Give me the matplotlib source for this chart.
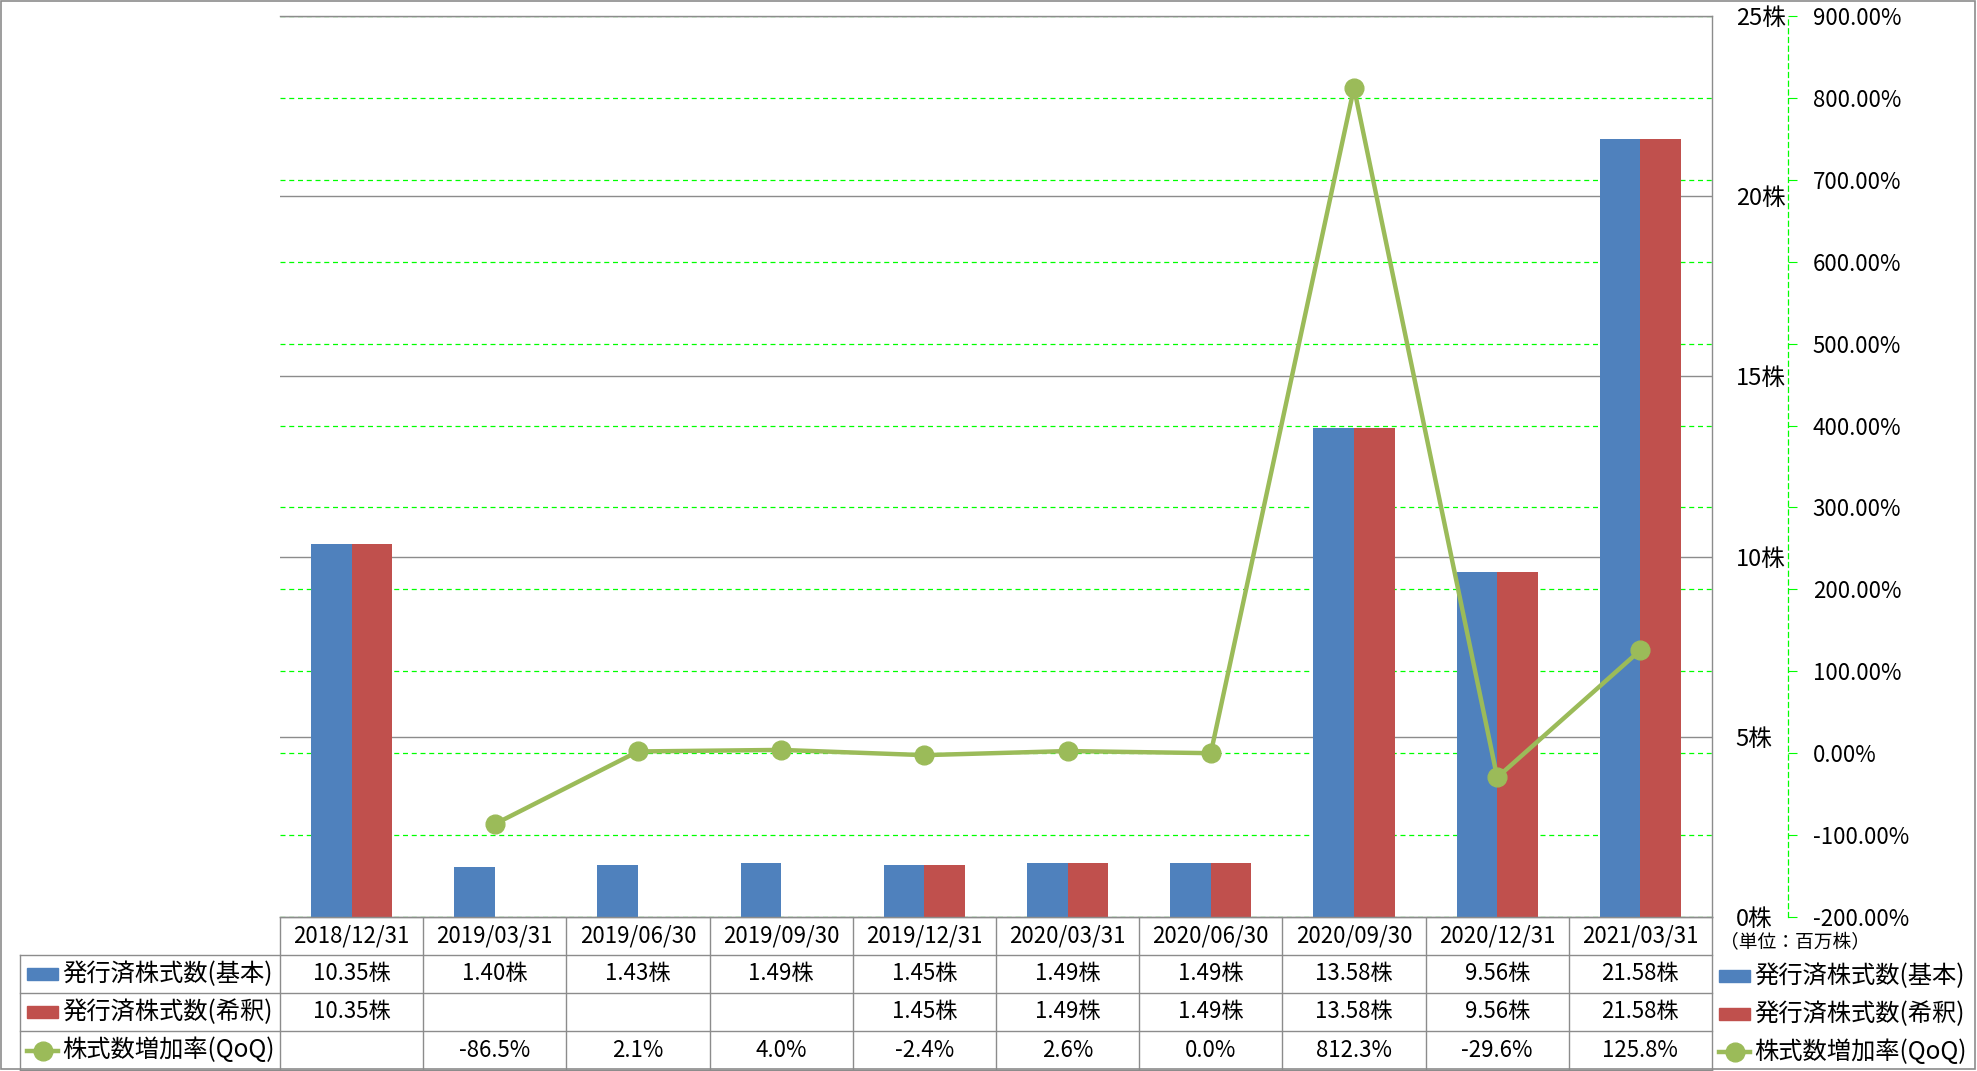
import numpy as np
import matplotlib
matplotlib.use("Agg")
import matplotlib.pyplot as plt
from matplotlib.patches import Rectangle
from matplotlib.transforms import blended_transform_factory

plt.rcParams['font.family'] = ['Noto Sans CJK JP', 'DejaVu Sans']

# data
dates = ['2018/12/31', '2019/03/31', '2019/06/30', '2019/09/30', '2019/12/31',
         '2020/03/31', '2020/06/30', '2020/09/30', '2020/12/31', '2021/03/31']
shares_basic = [10.35, 1.40, 1.43, 1.49, 1.45, 1.49, 1.49, 13.58, 9.56, 21.58]
shares_diluted = [10.35, np.nan, np.nan, np.nan, 1.45, 1.49, 1.49, 13.58, 9.56, 21.58]
growth_qoq = [np.nan, -86.5, 2.1, 4.0, -2.4, 2.6, 0.0, 812.3, -29.6, 125.8]
name_basic = '発行済株式数(基本)'
name_diluted = '発行済株式数(希釈)'
name_growth = '株式数増加率(QoQ)'
unit_note = '（単位：百万株）'

BLUE = '#4F81BD'
RED = '#C0504D'
GREEN = '#9BBB59'
GRAY = '#8C8C8C'

W, H = 1977, 1071
fig = plt.figure(figsize=(W / 100, H / 100), dpi=100)

# plot area in pixels: x 280..1712, y 16..917
L, R, T, B = 280, 1712, 16, 917
rect = [L / W, 1 - B / H, (R - L) / W, (B - T) / H]

ax2 = fig.add_axes(rect, zorder=0)   # secondary scale + green grid
ax = fig.add_axes(rect, zorder=1)    # bars
ax3 = fig.add_axes(rect, zorder=2)   # line
for a in (ax, ax3):
    a.patch.set_visible(False)

x = np.arange(len(dates))
bw = 0.2835

# bars
ax.bar(x - bw / 2, shares_basic, bw, color=BLUE, zorder=2)
d = np.array(shares_diluted)
m = ~np.isnan(d)
ax.bar(x[m] + bw / 2, d[m], bw, color=RED, zorder=2)
ax.set_xlim(-0.5, len(dates) - 0.5)
ax.set_ylim(0, 25)
ax.yaxis.tick_right()
ax.set_yticks(np.arange(0, 26, 5))
ax.set_yticklabels([f'{v:g}株' for v in np.arange(0, 26, 5)])
ax.tick_params(axis='y', length=0, pad=17, labelsize=17)
ax.set_xticks([])
ax.grid(axis='y', color=GRAY, linewidth=1.0)
ax.set_axisbelow(True)
ax.spines['left'].set_visible(False)
for s in ('right', 'top', 'bottom'):
    ax.spines[s].set_color(GRAY)
    ax.spines[s].set_linewidth(1.0)

# secondary axis
pct_ticks = np.arange(-200, 901, 100)
ax2.set_xlim(ax.get_xlim())
ax2.set_ylim(-200, 900)
ax2.set_xticks([])
ax2.yaxis.tick_right()
ax2.tick_params(axis='y', direction='out', length=6.5, width=0.8, color='#00FF00',
                pad=11, labelsize=16)
ax2.set_yticks(pct_ticks)
ax2.set_yticklabels([f'{v:.2f}%' for v in pct_ticks])
for lab, v in zip(ax2.get_yticklabels(), pct_ticks):
    lab.set_color('#FF0000' if v < 0 else 'black')
ax2.grid(axis='y', color='#00FF00', linestyle=(0, (4, 3)), linewidth=0.9)
for s in ('left', 'top', 'bottom'):
    ax2.spines[s].set_visible(False)
ax2.spines['right'].set_position(('outward', 55))
ax2.spines['right'].set_color('#00FF00')
ax2.spines['right'].set_linestyle((0, (4, 3)))
ax2.spines['right'].set_linewidth(0.9)

# growth line
ax3.plot(x, growth_qoq, color=GREEN, linewidth=3.2, marker='o', markersize=13.5,
         markerfacecolor=GREEN, markeredgecolor=GREEN)
ax3.set_xlim(ax.get_xlim())
ax3.set_ylim(ax2.get_ylim())
ax3.axis('off')

# table / legend layer in pixel coords
tab = fig.add_axes([0, 0, 1, 1], zorder=-1)
tab.set_xlim(0, W)
tab.set_ylim(H, 0)
tab.axis('off')
tr = blended_transform_factory(ax.transData, tab.transData)

rows_y = [917, 955, 993, 1031, 1070]
tab.plot([L, R], [rows_y[0]] * 2, color=GRAY, lw=1.0)
for yy in rows_y[1:]:
    tab.plot([20, R], [yy, yy], color=GRAY, lw=1.0)
tab.plot([20, 20], [rows_y[1], rows_y[-1]], color=GRAY, lw=1.0)
for b in np.arange(len(dates) + 1) - 0.5:
    tab.plot([b, b], [rows_y[0], rows_y[-1]], color=GRAY, lw=1.0, transform=tr)

TFS = 16
row_c = [(rows_y[i] + rows_y[i + 1]) / 2 for i in range(4)]
for i, dt in enumerate(dates):
    tab.text(i, row_c[0], dt, transform=tr, ha='center', va='center', fontsize=TFS)
    tab.text(i, row_c[1], f'{shares_basic[i]:.2f}株', transform=tr, ha='center', va='center', fontsize=TFS)
    if not np.isnan(shares_diluted[i]):
        tab.text(i, row_c[2], f'{shares_diluted[i]:.2f}株', transform=tr, ha='center', va='center', fontsize=TFS)
    if not np.isnan(growth_qoq[i]):
        tab.text(i, row_c[3], f'{growth_qoq[i]:.1f}%', transform=tr, ha='center', va='center', fontsize=TFS)


def legend_rows(x0, ys, fs):
    tab.add_patch(Rectangle((x0, ys[0] - 6), 31, 12, color=BLUE))
    tab.add_patch(Rectangle((x0, ys[1] - 6), 31, 12, color=RED))
    tab.plot([x0, x0 + 31], [ys[2], ys[2]], color=GREEN, lw=3.2)
    tab.plot([x0 + 15.5], [ys[2]], 'o', color=GREEN, markersize=13.5)
    for yy, name in zip(ys, (name_basic, name_diluted, name_growth)):
        tab.text(x0 + 35, yy, name, ha='left', va='center', fontsize=fs)


legend_rows(27, row_c[1:], 17.5)
legend_rows(1719, [976, 1014, 1052], 17.5)
tab.text(1720, 943, unit_note, ha='left', va='center', fontsize=13.5)

# outer frame
tab.add_patch(Rectangle((1, 1), W - 3, H - 3, fill=False, edgecolor=GRAY, lw=1.2))

fig.savefig('out.png', dpi=100)
